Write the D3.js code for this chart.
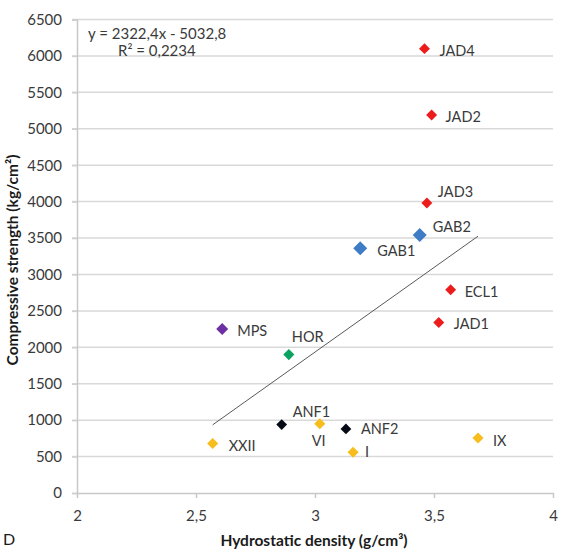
<!DOCTYPE html>
<html>
<head>
<meta charset="utf-8">
<script src="https://cdn.jsdelivr.net/npm/d3@7"></script>
<style>
  body { margin: 0; background: #fff; }
  text { font-family: Lato, "Liberation Sans", sans-serif; }
</style>
</head>
<body>
<div id="chart"></div>
<script>
// rock samples: hydrostatic density vs compressive strength
var names    = ["JAD4", "JAD2", "JAD3", "GAB2", "GAB1", "ECL1", "JAD1", "MPS", "HOR", "ANF1", "VI", "ANF2", "I", "XXII", "IX"];
var density  = [3.46, 3.49, 3.47, 3.44, 3.19, 3.57, 3.52, 2.61, 2.89, 2.86, 3.02, 3.13, 3.16, 2.57, 3.685];
var strength = [6100, 5190, 3980, 3540, 3360, 2790, 2340, 2250, 1900, 940, 950, 880, 560, 680, 755];
var groups   = ["jad", "jad", "jad", "gab", "gab", "jad", "jad", "mps", "hor", "anf", "yel", "anf", "yel", "yel", "yel"];

var xTicks = [2, 2.5, 3, 3.5, 4];
var yTicks = [0, 500, 1000, 1500, 2000, 2500, 3000, 3500, 4000, 4500, 5000, 5500, 6000, 6500];

// trendline coefficients as printed on the chart
var slope = 2322.4, intercept = -5032.8;

// label placement relative to each marker [dx, dy]
var labelOffsets = [[15, 2], [14, 2], [11, -12], [13, -9], [17, 2], [14, 2], [15, 1], [15, 1],
                    [3, -18], [11, -13], [-8, 17], [15, 0], [12, -1], [16, 2], [15, 2]];

var colors = { jad: "#ec1c1c", gab: "#3f7cc6", mps: "#6d2fa4", hor: "#0aa25e", anf: "#050a14", yel: "#f6bd1d" };
var markerArea = { jad: 60, gab: 98, mps: 72, hor: 62, anf: 58, yel: 62 };

var width = 566, height = 552;
var margin = { top: 19.5, right: 13, bottom: 59, left: 77 };

var svg = d3.select("#chart").append("svg")
    .attr("width", width)
    .attr("height", height);

var x = d3.scaleLinear().domain([2, 4]).range([margin.left, width - margin.right]);
var y = d3.scaleLinear().domain([0, 6500]).range([height - margin.bottom, margin.top]);

var comma = function (d) { return String(d).replace(".", ","); };

// horizontal gridlines
svg.append("g")
    .selectAll("line")
    .data(yTicks.filter(function (d) { return d > 0; }))
    .enter().append("line")
    .attr("x1", x(2) - 5)
    .attr("x2", x(4))
    .attr("y1", function (d) { return y(d); })
    .attr("y2", function (d) { return y(d); })
    .attr("stroke", "#d9d9d9")
    .attr("stroke-width", 1.5);

// y axis
var yAxis = svg.append("g")
    .attr("transform", "translate(" + x(2) + ",0)")
    .call(d3.axisLeft(y).tickValues(yTicks).tickSize(5).tickPadding(10).tickFormat(d3.format("d")));
yAxis.select(".domain").attr("stroke", "#c8c8c8").attr("stroke-width", 1.5);
yAxis.selectAll(".tick line").attr("stroke", "#d0d0d0").attr("stroke-width", 1.5);
yAxis.selectAll("text").attr("font-size", 15).attr("fill", "#3a3a3a").attr("font-family", "Lato");

// x axis
var xAxis = svg.append("g")
    .attr("transform", "translate(0," + y(0) + ")")
    .call(d3.axisBottom(x).tickValues(xTicks).tickSize(5).tickPadding(12).tickSizeOuter(0).tickFormat(comma));
xAxis.select(".domain").attr("stroke", "#c8c8c8").attr("stroke-width", 1.5);
xAxis.selectAll(".tick line").attr("stroke", "#c8c8c8").attr("stroke-width", 1.5);
xAxis.selectAll("text").attr("font-size", 15).attr("fill", "#3a3a3a").attr("font-family", "Lato");

// linear trendline spanning the data
var xMin = d3.min(density), xMax = d3.max(density);
svg.append("line")
    .attr("x1", x(xMin))
    .attr("y1", y(slope * xMin + intercept))
    .attr("x2", x(xMax))
    .attr("y2", y(slope * xMax + intercept))
    .attr("stroke", "#595959")
    .attr("stroke-width", 1);

// markers
var diamond = d3.symbol().type(d3.symbolSquare);
svg.append("g")
    .selectAll("path")
    .data(names)
    .enter().append("path")
    .attr("d", function (d, i) { return diamond.size(markerArea[groups[i]])(); })
    .attr("transform", function (d, i) {
        return "translate(" + x(density[i]) + "," + y(strength[i]) + ") rotate(45)";
    })
    .attr("fill", function (d, i) { return colors[groups[i]]; });

// point labels
svg.append("g")
    .selectAll("text")
    .data(names)
    .enter().append("text")
    .attr("x", function (d, i) { return x(density[i]) + labelOffsets[i][0]; })
    .attr("y", function (d, i) { return y(strength[i]) + labelOffsets[i][1]; })
    .attr("dominant-baseline", "central")
    .attr("font-size", 14.5)
    .attr("fill", "#3a3a3a")
    .text(function (d) { return d; });

// trendline equation
svg.append("text")
    .attr("x", 88).attr("y", 33)
    .attr("dominant-baseline", "central")
    .attr("font-size", 15)
    .attr("fill", "#3a3a3a")
    .text("y = " + comma(slope) + "x - " + comma(-intercept));
svg.append("text")
    .attr("x", 118).attr("y", 50)
    .attr("dominant-baseline", "central")
    .attr("font-size", 15)
    .attr("fill", "#3a3a3a")
    .text("R² = 0,2234");

// axis titles
svg.append("text")
    .attr("x", 314).attr("y", 540)
    .attr("text-anchor", "middle")
    .attr("dominant-baseline", "central")
    .attr("font-size", 15.5)
    .attr("font-weight", "bold")
    .attr("fill", "#1a1a1a")
    .text("Hydrostatic density (g/cm³)");

svg.append("text")
    .attr("transform", "translate(12,260) rotate(-90)")
    .attr("text-anchor", "middle")
    .attr("dominant-baseline", "central")
    .attr("font-size", 15.5)
    .attr("font-weight", "bold")
    .attr("fill", "#1a1a1a")
    .text("Compressive strength (kg/cm²)");

// panel letter at the bottom-left corner
svg.append("text")
    .attr("x", 3).attr("y", 545)
    .attr("font-size", 16)
    .attr("fill", "#1a1a1a")
    .text("D");
</script>
</body>
</html>
